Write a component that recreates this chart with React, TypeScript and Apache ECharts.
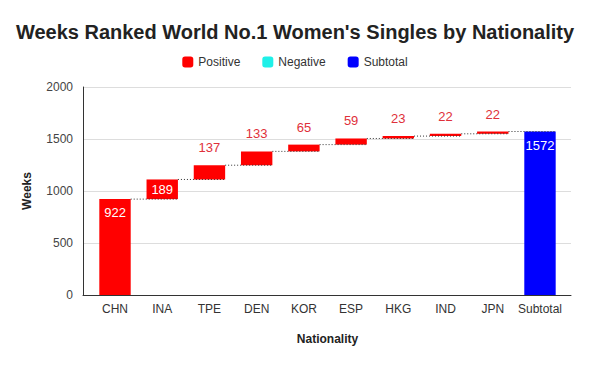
import React, { useEffect, useRef } from "react";
import * as echarts from "echarts";

const categories = ["CHN", "INA", "TPE", "DEN", "KOR", "ESP", "HKG", "IND", "JPN", "Subtotal"];
const positiveValues = [922, 189, 137, 133, 65, 59, 23, 22, 22];
const subtotalValue = 1572;
const yTicks = [0, 500, 1000, 1500, 2000];

const FONT = "Liberation Sans, Arial";

export default function App() {
  const ref = useRef<HTMLDivElement>(null);
  useEffect(() => {
    if (!ref.current) return;
    const chart = echarts.init(ref.current, null, { renderer: "svg" });
    const bases: (number | string)[] = [];
    const cums: number[] = [];
    let acc = 0;
    positiveValues.forEach((v) => {
      bases.push(acc);
      acc += v;
      cums.push(acc);
    });
    bases.push("-");
    const insideIdx = new Set([0, 1]);
    const posData: any[] = positiveValues.map((v, i) => ({
      value: v,
      label: insideIdx.has(i)
        ? { show: true, position: i === 0 ? "insideTop" : "inside", color: "#fff", distance: 7 }
        : { show: true, position: "top", color: "#e0303a", distance: 11 },
    }));
    posData.push("-");
    const subData: any[] = categories.map((_, i) =>
      i === categories.length - 1 ? { value: subtotalValue } : "-"
    );
    const negData: any[] = categories.map(() => "-");
    const connData = cums.map((c, i) => [i, c]);
    const barRatio = 0.665;

    chart.setOption({
      animation: false,
      backgroundColor: "#fff",
      title: {
        text: "Weeks Ranked World No.1 Women's Singles by Nationality",
        left: "center",
        top: 17,
        textStyle: { fontFamily: FONT, fontSize: 20, fontWeight: "bold", color: "#222" },
      },
      legend: {
        data: ["Positive", "Negative", "Subtotal"],
        top: 51,
        left: "center",
        itemWidth: 11,
        itemHeight: 11,
        itemGap: 22,
        icon: "roundRect",
        textStyle: { fontFamily: FONT, fontSize: 12, color: "#333" },
      },
      grid: [
        { left: 83, right: 19, top: 87, bottom: 70 },
        { left: 91.4, right: 26.4, top: 87, bottom: 70 },
      ],
      xAxis: [
        {
          type: "value",
          gridIndex: 0,
          min: 0,
          max: 1,
          axisLine: { show: true, onZero: false, lineStyle: { color: "#333" } },
          axisTick: { show: false },
          axisLabel: { show: false },
          splitLine: { show: false },
        },
        {
          type: "category",
          gridIndex: 1,
          data: categories,
          name: "Nationality",
          nameLocation: "middle",
          nameGap: 38,
          nameTextStyle: { fontFamily: FONT, fontSize: 12, fontWeight: "bold", color: "#222" },
          axisLine: { show: false },
          axisTick: { show: false },
          axisLabel: { fontFamily: FONT, fontSize: 12, color: "#333", margin: 8, interval: 0 },
        },
      ],
      yAxis: [
        {
          type: "value",
          gridIndex: 0,
          min: 0,
          max: 2000,
          interval: 500,
          name: "Weeks",
          nameLocation: "middle",
          nameGap: 50,
          nameTextStyle: { fontFamily: FONT, fontSize: 12, fontWeight: "bold", color: "#222" },
          axisLine: { show: true, lineStyle: { color: "#333" } },
          axisTick: { show: false },
          axisLabel: {
            fontFamily: FONT,
            fontSize: 12,
            color: "#444",
            margin: 10,
            formatter: (v: number) => (yTicks.includes(v) ? String(v) : ""),
          },
          splitLine: { lineStyle: { color: "#ddd" } },
        },
        {
          type: "value",
          gridIndex: 1,
          min: 0,
          max: 2000,
          interval: 500,
          show: false,
          splitLine: { show: false },
        },
      ],
      series: [
        {
          name: "base",
          type: "bar",
          stack: "total",
          xAxisIndex: 1,
          yAxisIndex: 1,
          barWidth: barRatio * 100 + "%",
          itemStyle: { color: "transparent" },
          emphasis: { disabled: true },
          data: bases,
          silent: true,
        },
        {
          name: "Positive",
          type: "bar",
          stack: "total",
          xAxisIndex: 1,
          yAxisIndex: 1,
          itemStyle: { color: "#ff0000" },
          label: { fontFamily: FONT, fontSize: 13 },
          data: posData,
          z: 3,
        },
        {
          name: "Negative",
          type: "bar",
          stack: "total",
          xAxisIndex: 1,
          yAxisIndex: 1,
          itemStyle: { color: "#1ff0e8" },
          data: negData,
        },
        {
          name: "Subtotal",
          type: "bar",
          stack: "total",
          xAxisIndex: 1,
          yAxisIndex: 1,
          itemStyle: { color: "#0000ff" },
          label: {
            show: true,
            position: "insideTop",
            distance: 7,
            color: "#fff",
            fontFamily: FONT,
            fontSize: 13,
          },
          data: subData,
        },
        {
          name: "connector",
          type: "custom",
          xAxisIndex: 1,
          yAxisIndex: 1,
          z: 4,
          silent: true,
          data: connData,
          renderItem: (params: any, api: any) => {
            const i = api.value(0);
            const y = api.value(1);
            const p = api.coord([i, y]);
            const bw = api.size([1, 0])[0];
            const half = (bw * barRatio) / 2;
            return {
              type: "line",
              shape: { x1: p[0] + half, y1: p[1], x2: p[0] + bw + half, y2: p[1] },
              style: { stroke: "#333", lineWidth: 1, lineDash: [1, 2] },
            };
          },
        },
      ],
    });
    return () => chart.dispose();
  }, []);
  return <div ref={ref} style={{ position: "absolute", left: 0, top: 0, width: 590, height: 365 }} />;
}
